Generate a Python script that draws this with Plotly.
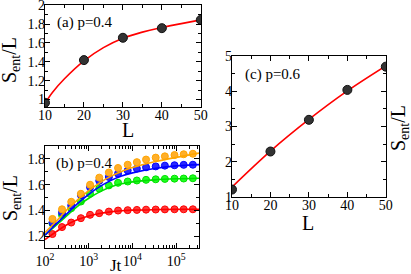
import plotly.graph_objects as go

# ---------------- data ----------------
# panel (a): p = 0.4
L_a = [10, 20, 30, 40, 50]
S_a = [0.965, 1.418, 1.655, 1.757, 1.845]
fitL_a = [10, 12, 15, 20, 25, 30, 35, 40, 45, 50]
fitS_a = [0.96, 1.08, 1.22, 1.41, 1.55, 1.65, 1.715, 1.765, 1.805, 1.845]

# panel (b): p = 0.4, time evolution
Jt_b = [148, 245, 398, 661, 1072, 1738, 2884, 4677, 7762, 12589,
        20417, 33884, 54954, 91201, 147911, 239883]
S_red = [1.218, 1.272, 1.307, 1.341, 1.367, 1.380, 1.392, 1.400, 1.403, 1.405,
         1.407, 1.408, 1.409, 1.410, 1.410, 1.410]
S_green = [1.300, 1.365, 1.418, 1.470, 1.530, 1.570, 1.595, 1.615, 1.625, 1.633,
           1.638, 1.642, 1.645, 1.647, 1.648, 1.650]
S_blue = [1.307, 1.385, 1.440, 1.520, 1.580, 1.630, 1.660, 1.686, 1.710, 1.725,
          1.735, 1.742, 1.748, 1.751, 1.754, 1.755]
S_orange = [1.335, 1.410, 1.468, 1.530, 1.600, 1.655, 1.695, 1.730, 1.755, 1.775,
            1.795, 1.810, 1.820, 1.830, 1.836, 1.840]
fitJt_b = [100, 178, 316, 562, 1000, 1778, 3162, 5623, 10000, 31623, 100000, 331000]
fit_red = [1.175, 1.235, 1.290, 1.330, 1.358, 1.377, 1.390, 1.398, 1.403, 1.407, 1.409, 1.410]
fit_green = [1.210, 1.285, 1.360, 1.435, 1.495, 1.545, 1.583, 1.607, 1.622, 1.638, 1.646, 1.650]
fit_blue = [1.210, 1.295, 1.375, 1.455, 1.525, 1.585, 1.632, 1.667, 1.692, 1.726, 1.746, 1.756]
fit_orange = [1.230, 1.315, 1.405, 1.485, 1.555, 1.615, 1.665, 1.703, 1.733, 1.778, 1.812, 1.845]

# panel (c): p = 0.6
L_c = [10, 20, 30, 40, 50]
S_c = [1.21, 2.29, 3.19, 4.04, 4.70]
fitL_c = [10, 20, 30, 40, 50]
fitS_c = [1.28, 2.30, 3.20, 4.01, 4.72]

log_ticks = [100, 1000, 10000, 100000]
log_ticktext = ["10<sup>2</sup>", "10<sup>3</sup>", "10<sup>4</sup>", "10<sup>5</sup>"]

# ---------------- figure ----------------
W, H = 411, 274
FONT = "Liberation Serif"
fig = go.Figure()

dot = dict(color="#333333", size=9, line=dict(color="#111111", width=1))
red = "#ff0000"

fig.add_trace(go.Scatter(x=fitL_a, y=fitS_a, mode="lines", line=dict(color=red, width=1.6, shape="spline"),
                         xaxis="x", yaxis="y"))
fig.add_trace(go.Scatter(x=L_a, y=S_a, mode="markers", marker=dot, xaxis="x", yaxis="y"))

series = [(S_red, fit_red, "#ff0000", "#ff3a3a"),
          (S_green, fit_green, "#00e000", "#22ff22"),
          (S_blue, fit_blue, "#0000ff", "#2a2aff"),
          (S_orange, fit_orange, "#ffa500", "#ffaf2a")]
for pts, fit, lc, mc in series:
    fig.add_trace(go.Scatter(x=Jt_b, y=pts, mode="markers",
                             marker=dict(color=mc, size=7, line=dict(color=lc, width=1)),
                             xaxis="x2", yaxis="y2"))
for pts, fit, lc, mc in series:
    fig.add_trace(go.Scatter(x=fitJt_b, y=fit, mode="lines", line=dict(color=lc, width=1.6, shape="spline"),
                             xaxis="x2", yaxis="y2"))

fig.add_trace(go.Scatter(x=fitL_c, y=fitS_c, mode="lines", line=dict(color=red, width=1.6, shape="spline"),
                         xaxis="x3", yaxis="y3"))
fig.add_trace(go.Scatter(x=L_c, y=S_c, mode="markers", marker=dot, xaxis="x3", yaxis="y3"))


def px(v):
    return v / W


def py(v):
    return 1 - v / H


common = dict(showline=True, linecolor="black", linewidth=1.3, mirror="allticks",
              ticks="inside", ticklen=5, tickwidth=1, tickcolor="black",
              showgrid=False, zeroline=False, automargin=False, ticklabeloverflow="allow",
              tickfont=dict(family=FONT, size=14, color="black"))
xcommon = dict(common, ticklabelstandoff=-5)
logcommon = dict(common, ticklabelstandoff=0)
ycommon = dict(common, ticklabelstandoff=-4)

fig.update_layout(
    template="none",
    width=W, height=H, margin=dict(l=0, r=0, t=0, b=0, pad=0),
    paper_bgcolor="white", plot_bgcolor="white", showlegend=False,
    font=dict(family=FONT, color="black"),
    xaxis=dict(domain=[px(45), px(201)], anchor="y", range=[10, 50.05], dtick=10, tick0=10,
               minor=dict(ticks="inside", ticklen=3, dtick=5, tick0=10, tickcolor="black"), **xcommon),
    yaxis=dict(domain=[py(107), py(5)], anchor="x", range=[0.92, 2.003], dtick=0.2, tick0=1,
               tickformat="~g",
               minor=dict(ticks="inside", ticklen=3, dtick=0.1, tick0=1, tickcolor="black"), **ycommon),
    xaxis2=dict(domain=[px(45), px(199)], anchor="y2", type="log", range=[2, 5.52],
                tickvals=log_ticks, ticktext=log_ticktext,
                minor=dict(ticks="inside", ticklen=3, dtick="D1", tickcolor="black"), **logcommon),
    yaxis2=dict(domain=[py(248), py(146)], anchor="x2", range=[1.11, 1.9], dtick=0.2, tick0=1.2,
                minor=dict(ticks="inside", ticklen=3, dtick=0.1, tick0=1.2, tickcolor="black"), **ycommon),
    xaxis3=dict(domain=[px(232), px(386)], anchor="y3", range=[10, 50.05], dtick=10, tick0=10,
                minor=dict(ticks="inside", ticklen=3, dtick=5, tick0=10, tickcolor="black"), **xcommon),
    yaxis3=dict(domain=[py(197), py(56)], anchor="x3", range=[0.998, 5.003], dtick=1, tick0=1,
                minor=dict(ticks="inside", ticklen=3, dtick=0.5, tick0=1, tickcolor="black"), **ycommon),
)

ann = []
def add_text(x, y, text, size, angle=0, xanchor="center", yanchor="middle"):
    ann.append(dict(x=px(x), y=py(y), xref="paper", yref="paper", text=text, showarrow=False,
                    textangle=angle, xanchor=xanchor, yanchor=yanchor,
                    font=dict(family=FONT, size=size, color="black")))

ylab = "S<sub>ent</sub>/L"
add_text(11, 60, ylab, 20, angle=-90)
add_text(11, 198, ylab, 20, angle=-90)
add_text(399, 128, ylab, 20, angle=-90)
add_text(128, 130, "L", 20)
add_text(308, 223, "L", 20)
add_text(116, 265, "Jt", 17)
add_text(55, 23, "(a) p=0.4", 15, xanchor="left")
add_text(54, 163, "(b) p=0.4", 15, xanchor="left")
add_text(243, 75, "(c) p=0.6", 15, xanchor="left")
fig.update_layout(annotations=ann)

fig.write_html("out.html", config={"displayModeBar": False},
               post_script="document.body.style.margin='0px';")
